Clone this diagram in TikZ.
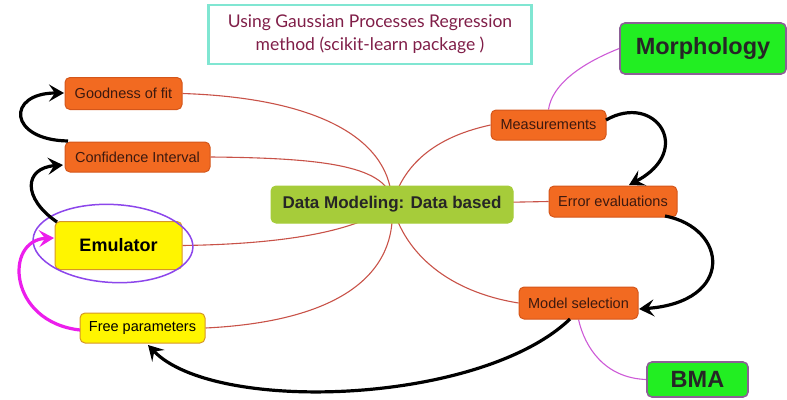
\documentclass[tikz,border=0pt]{standalone}
\usepackage{fontspec}
\setmainfont{Liberation Sans}
\newfontfamily\titlefont{Lato}
\usetikzlibrary{arrows.meta,backgrounds}

\definecolor{boxorange}{RGB}{242,106,33}
\definecolor{orangeedge}{RGB}{212,86,26}
\definecolor{orangetext}{RGB}{60,25,15}
\definecolor{boxyellow}{RGB}{255,245,0}
\definecolor{yellowedge}{RGB}{214,150,40}
\definecolor{hubgreen}{RGB}{166,204,58}
\definecolor{boxgreen}{RGB}{34,238,34}
\definecolor{greenedge}{RGB}{140,95,150}
\definecolor{linkred}{RGB}{200,82,72}
\definecolor{linkpink}{RGB}{205,90,215}
\definecolor{loopmagenta}{RGB}{236,30,236}
\definecolor{ringpurple}{RGB}{140,70,235}
\definecolor{titleedge}{RGB}{128,230,210}
\definecolor{titletext}{RGB}{128,30,72}

\tikzset{
  box/.style={rounded corners=5pt, draw, line width=1pt, inner sep=0pt, align=center},
  orangebox/.style={box, fill=boxorange, draw=orangeedge, text=orangetext,
    font=\fontsize{14.5}{16}\selectfont},
  yellowbox/.style={box, fill=boxyellow, draw=yellowedge, text=black},
  greenbox/.style={box, fill=boxgreen, draw=greenedge, line width=1.6pt, text=black!85,
    font=\bfseries\fontsize{23.5}{26}\selectfont},
  hubbox/.style={box, fill=hubgreen, draw=hubgreen, text=black!85,
    font=\bfseries\fontsize{17}{20}\selectfont},
  link/.style={draw=linkred, line width=1.1pt},
  pinklink/.style={draw=linkpink, line width=1.1pt},
  flow/.style={draw=black, line width=3.2pt,
    -{Stealth[length=15pt, width=17pt, inset=6pt]}},
  magflow/.style={flow, draw=loopmagenta},
}

\begin{document}
\begin{tikzpicture}[x=1pt, y=-1pt]
\useasboundingbox (0,0) rectangle (787,399);

% heading box
\node[draw=titleedge, line width=2.5pt, minimum width=323pt, minimum height=59pt,
      text=titletext, align=center, font=\titlefont\fontsize{17.5}{23}\selectfont]
  (title) at (370,34.5) {Using Gaussian Processes Regression\\method (scikit-learn package )};

% central topic
\node[hubbox, minimum width=242pt, minimum height=37pt] (hub) at (392,204.5) {Data Modeling: Data based};

% left branch
\node[orangebox, minimum width=117pt, minimum height=32pt] (good) at (123.5,93.5) {Goodness of fit};
\node[orangebox, minimum width=145pt, minimum height=30pt] (conf) at (137.5,157) {Confidence Interval};
\node[yellowbox, minimum width=127pt, minimum height=48pt,
      font=\bfseries\fontsize{18}{20}\selectfont] (emu) at (118.5,245.5) {Emulator};
\node[yellowbox, minimum width=125pt, minimum height=30pt,
      font=\fontsize{14.5}{16}\selectfont] (free) at (142.5,328) {Free parameters};

% right branch
\node[orangebox, minimum width=115pt, minimum height=30pt] (meas) at (548.5,125) {Measurements};
\node[orangebox, minimum width=128pt, minimum height=31pt] (err) at (613,201.5) {Error evaluations};
\node[orangebox, minimum width=119pt, minimum height=32pt] (modsel) at (578.5,303) {Model selection};
\node[greenbox, minimum width=166pt, minimum height=51pt] (morph) at (703,48.5) {Morphology};
\node[greenbox, minimum width=101pt, minimum height=35pt] (bma) at (697.5,379.5) {BMA};

% ring drawn round the emulator
\draw[ringpurple, line width=1.5pt, rotate around={-3:(113,243.5)}]
  (113,243.5) ellipse [x radius=80pt, y radius=39pt];

% branch lines behind the boxes
\begin{scope}[on background layer]
  \draw[link] (good.east) .. controls (320,98) and (392,140) .. (hub.center);
  \draw[link] (conf.east) .. controls (320,158) and (392,165) .. (hub.center);
  \draw[link] (emu.east) .. controls (290,244) and (360,230) .. (hub.center);
  \draw[link] (free.east) .. controls (330,322) and (398,280) .. (hub.center);
  \draw[link] (meas.west) .. controls (440,136) and (405,160) .. (hub.center);
  \draw[link] (err.west) -- (hub.center);
  \draw[link] (modsel.west) .. controls (450,292) and (405,255) .. (hub.center);
  \draw[pinklink] (morph.west) .. controls (580,64) and (552,85) .. (meas.north);
  \draw[pinklink] (bma.west) .. controls (605,378) and (585,348) .. (modsel.south);
\end{scope}

% flow arrows
\coordinate (confA) at (68,141);
\coordinate (goodB) at (64,93);
\draw[flow] (confA) .. controls (8,140) and (6,93) .. (goodB);
\coordinate (emuA) at (57,222);
\coordinate (confB) at (63,165);
\draw[flow] (emuA) .. controls (22,198) and (24,168) .. (confB);
\coordinate (measA) at (606,120);
\coordinate (errB) at (629,185);
\draw[flow] (measA) .. controls (655,92) and (695,150) .. (errB);
\coordinate (errA) at (665,216);
\coordinate (modB) at (639,309);
\draw[flow] (errA) .. controls (728,228) and (735,302) .. (modB);
\coordinate (modA) at (570,319);
\coordinate (freeB) at (148,345);
\draw[flow] (modA) .. controls (480,405) and (214,414) .. (freeB);
\coordinate (freeA) at (80,330);
\coordinate (emuB) at (54,238);
\draw[magflow] (freeA) .. controls (8,322) and (4,240) .. (emuB);
\end{tikzpicture}
\end{document}
